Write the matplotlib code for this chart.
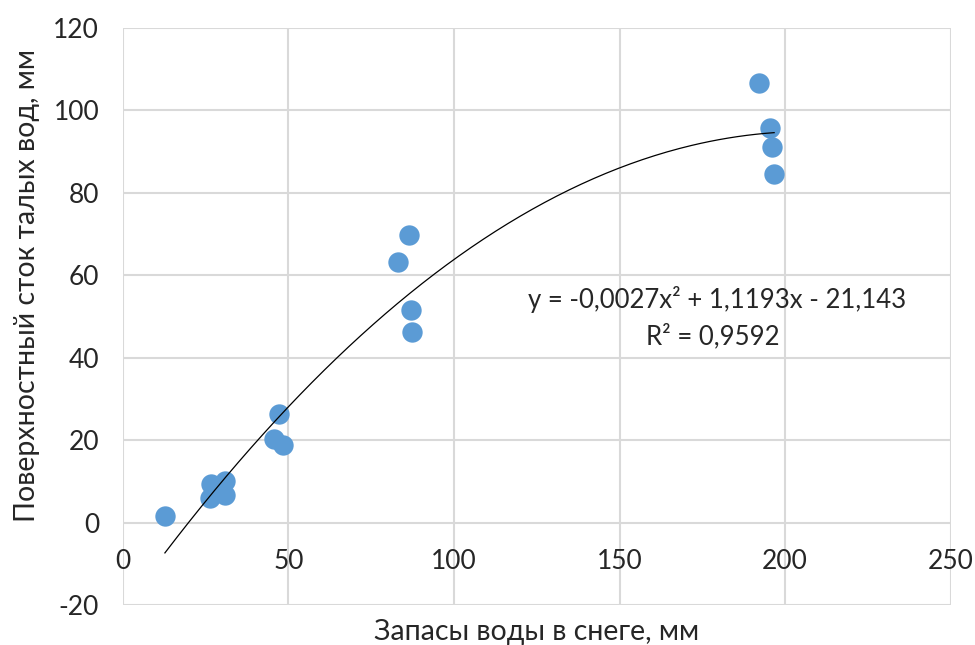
import numpy as np
import matplotlib
matplotlib.use('Agg')
import matplotlib.pyplot as plt

plt.rcParams['font.family'] = ['Lato', 'Open Sans', 'DejaVu Sans']
plt.rcParams['axes.unicode_minus'] = False

# snow water storage (mm) vs surface meltwater runoff (mm)
snow_water = [12.7, 26.5, 31.0, 26.2, 30.7, 28.5, 45.5, 47.3, 48.3,
              83.2, 86.4, 87.0, 87.4, 192.2, 195.4, 196.2, 196.7]
runoff = [1.5, 9.4, 10.1, 6.0, 6.8, 8.0, 20.3, 26.4, 18.9,
          63.2, 69.7, 51.5, 46.2, 106.7, 95.6, 91.0, 84.6]

# polynomial trend (from the chart label)
coef = [-0.0027, 1.1193, -21.143]
r2 = 0.9592

xticks = [0, 50, 100, 150, 200, 250]
yticks = [-20, 0, 20, 40, 60, 80, 100, 120]

W, H = 975, 645
fig = plt.figure(figsize=(9.75, 6.45), dpi=100)
ax = fig.add_axes([0.126, 0.062, 0.849, 0.895])

ax.set_xlim(0, 250)
ax.set_ylim(-20, 120)
ax.set_xticks(xticks)
ax.set_yticks(yticks)
ax.grid(True, color='#D9D9D9', linewidth=1.5)
ax.set_axisbelow(True)
for s in ax.spines.values():
    s.set_visible(False)

# x tick labels sit just below y = 0 like in Excel
ax.spines['bottom'].set_position(('data', 0))
ax.tick_params(axis='x', length=0, pad=19, labelsize=19, labelcolor='#262626')
ax.tick_params(axis='y', length=0, pad=17, labelsize=19, labelcolor='#262626')

ax.scatter(snow_water, runoff, s=215, color='#5B9BD5', zorder=3, linewidths=0)

xs = np.linspace(min(snow_water), max(snow_water), 200)
ax.plot(xs, np.polyval(coef, xs), color='black', linewidth=0.9, zorder=4)

eq = 'y = -0,0027x² + 1,1193x - 21,143'
fig.text(717 / W, 1 - 300 / H, eq, ha='center', va='center', fontsize=18.5, color='#262626')
fig.text(713 / W, 1 - 336 / H, 'R² = ' + f'{r2}'.replace('.', ','), ha='center', va='center',
         fontsize=18.5, color='#262626')

fig.text(537 / W, 1 - 632 / H, 'Запасы воды в снеге, мм', ha='center', va='center',
         fontsize=20.5, color='#262626')
fig.text(27 / W, 1 - 285 / H, 'Поверхностный сток талых вод, мм', ha='center', va='center',
         rotation=90, fontsize=20.5, color='#262626')

fig.savefig('out.png', dpi=100, facecolor='white')
